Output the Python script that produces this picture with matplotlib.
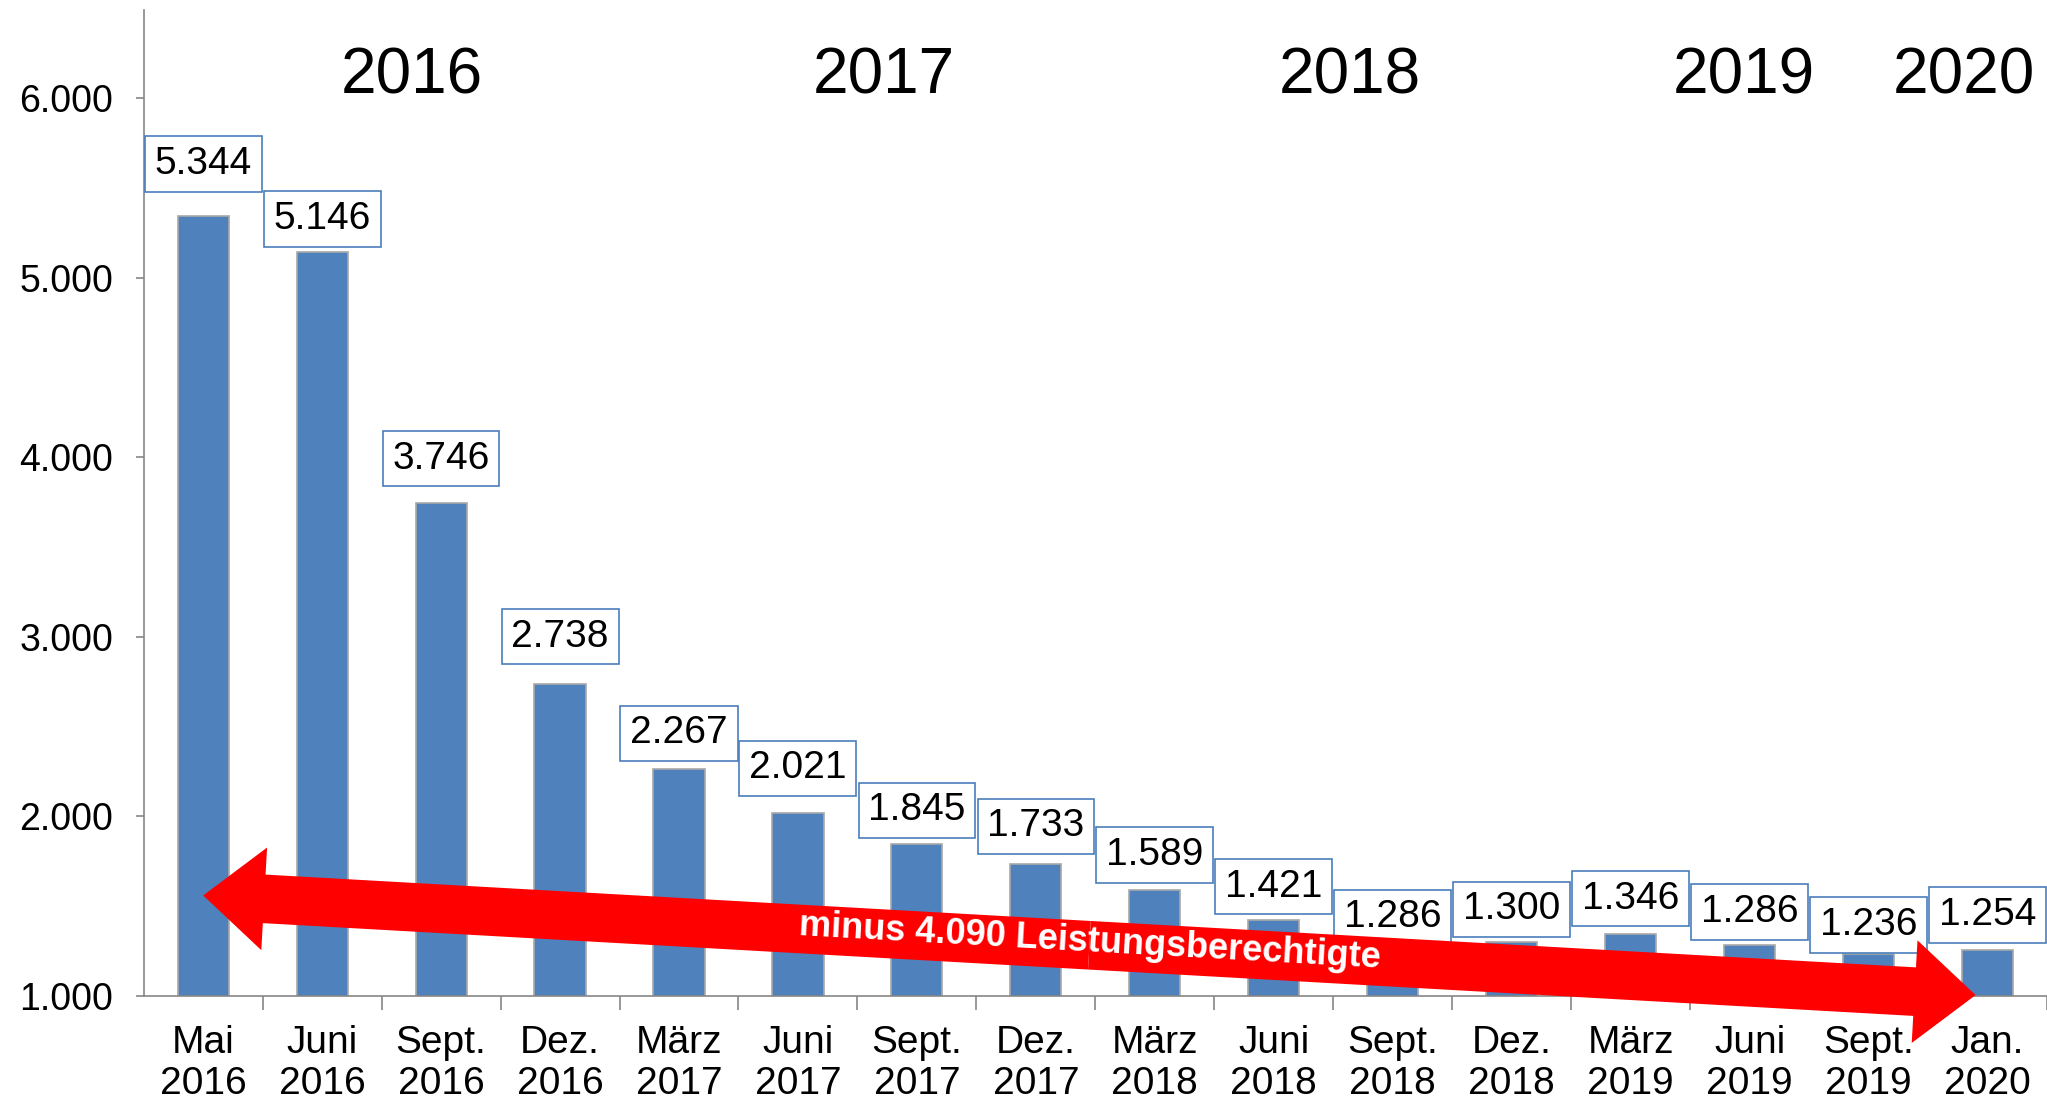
import math
import matplotlib
matplotlib.use("Agg")
from matplotlib import pyplot as plt
from matplotlib import font_manager
from matplotlib.patches import FancyArrowPatch
from matplotlib.ticker import FuncFormatter, FixedLocator

# Daten
months = ["Mai", "Juni", "Sept.", "Dez.", "März", "Juni", "Sept.", "Dez.",
          "März", "Juni", "Sept.", "Dez.", "März", "Juni", "Sept.", "Jan."]
years = ["2016", "2016", "2016", "2016", "2017", "2017", "2017", "2017",
         "2018", "2018", "2018", "2018", "2019", "2019", "2019", "2020"]
recipients = [5344, 5146, 3746, 2738, 2267, 2021, 1845, 1733,
              1589, 1421, 1286, 1300, 1346, 1286, 1236, 1254]
year_headers = ["2016", "2017", "2018", "2019", "2020"]
arrow_text = "minus 4.090 Leistungsberechtigte"

# Layout
label_offsets = [37.6, 23.5, 32, 34, 25.4, 32, 24.4, 27.3,
                 25.4, 24.4, 19.7, 23.5, 25.4, 23.5, 20.7, 25.4]
year_header_x = [1.75, 5.72, 9.64, 12.95, 14.8]
year_header_y = 6120
arrow_start = (0.0, 1560)
arrow_end = (14.9, 1005)

BAR_COLOR = "#4F81BD"
AXIS_COLOR = "#868686"

names = {f.name for f in font_manager.fontManager.ttflist}
NARROW = "Liberation Sans Narrow" if "Liberation Sans Narrow" in names else "Liberation Sans"
plt.rcParams["font.family"] = ["Liberation Sans", "DejaVu Sans"]


def de_format(v, pos=None):
    return f"{v:,.0f}".replace(",", ".")


fig = plt.figure(figsize=(20.47, 11.01), dpi=100)
ax = fig.add_axes([0.0702, 0.0954, 0.9298, 0.8951])

x = list(range(len(recipients)))
ax.bar(x, recipients, width=0.43, color=BAR_COLOR, edgecolor="#a8a8a8",
       linewidth=1.2, zorder=2)

ax.set_xlim(-0.5, len(recipients) - 0.5)
ax.set_ylim(1000, 6490)

# Achsen
for side in ("top", "right"):
    ax.spines[side].set_visible(False)
for side in ("left", "bottom"):
    ax.spines[side].set_color(AXIS_COLOR)
    ax.spines[side].set_linewidth(1.2)

ax.set_yticks([1000, 2000, 3000, 4000, 5000, 6000])
ax.yaxis.set_major_formatter(FuncFormatter(de_format))
ax.tick_params(axis="y", length=6, width=1.2, color=AXIS_COLOR, pad=16,
               labelsize=27)

ax.set_xticks(x)
ax.set_xticklabels([f"{m}\n{y}" for m, y in zip(months, years)],
                   linespacing=1.17)
ax.xaxis.set_minor_locator(FixedLocator([i + 0.5 for i in range(len(x))]))
ax.tick_params(axis="x", which="major", length=0, pad=21, labelsize=28)
ax.tick_params(axis="x", which="minor", length=10, width=1.2, color=AXIS_COLOR)

# Wertelabels
for i, v in enumerate(recipients):
    ax.annotate(de_format(v), (i, v), xytext=(0, label_offsets[i]),
                textcoords="offset points", ha="center", va="center",
                fontsize=28, zorder=3,
                bbox=dict(boxstyle="square,pad=0.25", facecolor="white",
                          edgecolor="#4A7EBB", linewidth=1.2))

# Jahre oben
for label, xp in zip(year_headers, year_header_x):
    ax.text(xp, year_header_y, label, ha="center", va="center",
            fontsize=46, family=[NARROW, "DejaVu Sans"], zorder=3)

# Pfeil (zwei Haelften von der Mitte aus)
mid = ((arrow_start[0] + arrow_end[0]) / 2, (arrow_start[1] + arrow_end[1]) / 2)
for tip in (arrow_start, arrow_end):
    arr = FancyArrowPatch(mid, tip,
                          arrowstyle="simple,tail_width=3.5,head_width=7.4,head_length=4.4",
                          mutation_scale=10, color="#FF0000", linewidth=0,
                          shrinkA=0, shrinkB=0, zorder=4, clip_on=False)
    ax.add_patch(arr)

p0 = ax.transData.transform(arrow_start)
p1 = ax.transData.transform(arrow_end)
angle = math.degrees(math.atan2(p1[1] - p0[1], p1[0] - p0[0]))
ax.text(mid[0], mid[1] + 20, arrow_text, ha="center", va="center",
        rotation=angle, rotation_mode="anchor", color="white", fontweight="bold",
        fontsize=26, family=[NARROW, "DejaVu Sans"], zorder=5)

fig.savefig("out.png", dpi=100)
